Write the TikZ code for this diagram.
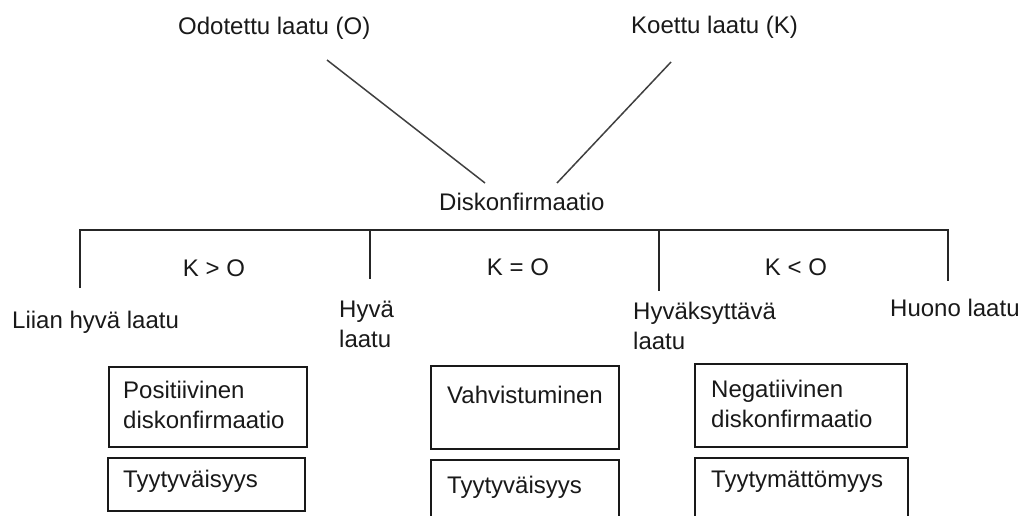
\documentclass[tikz,border=0pt]{standalone}
\usepackage{fontspec}
\setmainfont{Liberation Sans}
\begin{document}
\begin{tikzpicture}[x=1pt,y=-1pt,
  lbl/.style={anchor=base west,inner sep=0pt,font=\fontsize{24}{30}\selectfont,text=black!90},
  clbl/.style={anchor=base,inner sep=0pt,font=\fontsize{24}{30}\selectfont,text=black!90},
  boxnode/.style={draw=black!90,line width=1.8pt,anchor=north west,inner sep=0pt},
  conn/.style={draw=black!75,line width=1.5pt},
  bar/.style={draw=black!85,line width=1.8pt}]
\useasboundingbox (0,0) rectangle (1022,516);
\clip (0,0) rectangle (1022,516);
% top labels
\node[lbl] (odot) at (178,35) {Odotettu laatu (O)};
\node[lbl] (koet) at (631,34) {Koettu laatu (K)};
\node[lbl] (disk) at (439,210) {Diskonfirmaatio};
% diagonal connectors
\coordinate (oA) at (327,60);
\coordinate (oB) at (485,183);
\coordinate (kA) at (671,62);
\coordinate (kB) at (557,183);
\draw[conn] (oA) -- (oB);
\draw[conn] (kA) -- (kB);
% bracket
\coordinate (t1) at (80,230);
\coordinate (t2) at (370,230);
\coordinate (t3) at (659,230);
\coordinate (t4) at (948,230);
\coordinate (e1) at (80,288);
\coordinate (e2) at (370,279);
\coordinate (e3) at (659,291);
\coordinate (e4) at (948,281);
\draw[bar] (e1) -- (t1) -- (t4) -- (e4);
\draw[bar] (t2) -- (e2);
\draw[bar] (t3) -- (e3);
% comparison labels
\node[clbl] (kgo) at (214,276) {K > O};
\node[clbl] (keo) at (518,275) {K = O};
\node[clbl] (klo) at (796,275) {K < O};
% quality labels
\node[lbl] (liian) at (12,328) {Liian hyvä laatu};
\node[lbl] (hyva) at (339,317) {\begin{tabular}[t]{@{}l@{}}Hyvä\\laatu\end{tabular}};
\node[lbl] (hyvak) at (633,319) {\begin{tabular}[t]{@{}l@{}}Hyväksyttävä\\laatu\end{tabular}};
\node[lbl] (huono) at (890,316) {Huono laatu};
% boxes
\node[boxnode,minimum width=198pt,minimum height=80pt] (b1) at (108,366) {};
\node[boxnode,minimum width=197pt,minimum height=53pt] (b2) at (107,457) {};
\node[boxnode,minimum width=188pt,minimum height=83pt] (b3) at (430,365) {};
\node[boxnode,minimum width=188pt,minimum height=75pt] (b4) at (430,459) {};
\node[boxnode,minimum width=212pt,minimum height=83pt] (b5) at (694,363) {};
\node[boxnode,minimum width=213pt,minimum height=75pt] (b6) at (694,457) {};
% box texts
\node[lbl] (tx1) at (123,398) {\begin{tabular}[t]{@{}l@{}}Positiivinen\\diskonfirmaatio\end{tabular}};
\node[lbl] (tx2) at (123,487) {Tyytyväisyys};
\node[lbl] (tx3) at (447,403) {Vahvistuminen};
\node[lbl] (tx4) at (447,493) {Tyytyväisyys};
\node[lbl] (tx5) at (711,397) {\begin{tabular}[t]{@{}l@{}}Negatiivinen\\diskonfirmaatio\end{tabular}};
\node[lbl] (tx6) at (711,487) {Tyytymättömyys};
\end{tikzpicture}
\end{document}
